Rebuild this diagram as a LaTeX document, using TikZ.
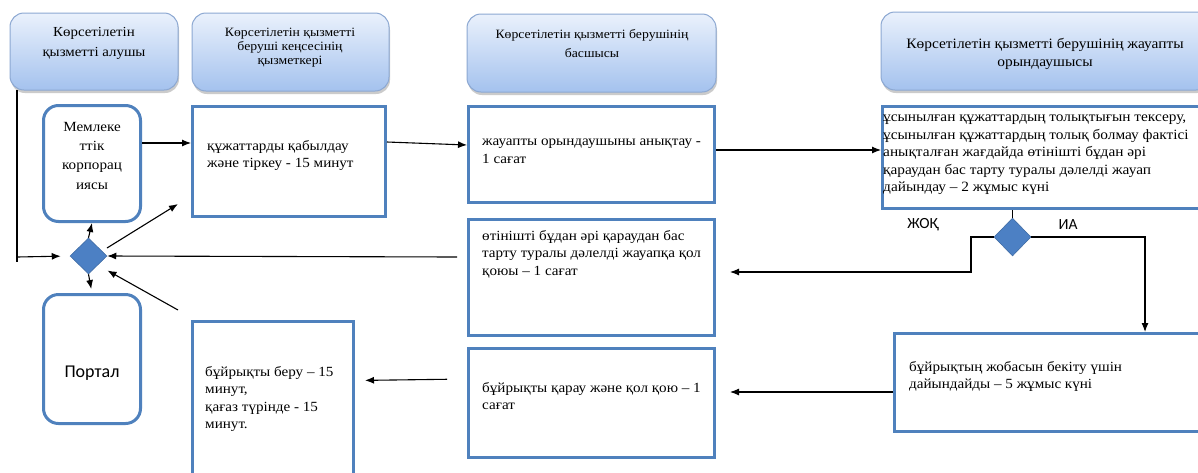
\documentclass[tikz,border=0pt]{standalone}
\usepackage{fontspec}
\setmainfont{Liberation Serif}[FakeStretch=1.08]
\newfontfamily\sansf{Carlito}
\usetikzlibrary{shapes.geometric,arrows.meta,shadows}
\definecolor{bxblue}{RGB}{79,129,189}
\definecolor{dmfill}{RGB}{76,128,196}
\definecolor{dmline}{RGB}{60,104,160}
\definecolor{hdtop}{RGB}{234,241,252}
\definecolor{hdbot}{RGB}{164,194,238}
\definecolor{hdline}{RGB}{140,168,210}
\tikzset{
  hdr/.style={draw=hdline, line width=1pt, rounded corners=14pt, top color=hdtop, bottom color=hdbot,
    drop shadow={shadow xshift=1pt, shadow yshift=-3pt, fill=black!45, opacity=0.45}, inner sep=0pt},
  htxt/.style={align=center, inner sep=0pt},
  box/.style={draw=bxblue, line width=3pt, fill=white, inner sep=0pt},
  rbox/.style={draw=bxblue, line width=3pt, fill=white, rounded corners=15pt, inner sep=0pt},
  dia/.style={diamond, fill=dmfill, draw=dmline, line width=0.5pt, inner sep=0pt},
  bt/.style={align=left, anchor=north west, inner sep=0pt, font=\fontsize{14}{17.5}\selectfont},
  btl/.style={bt, font=\fontsize{14.2}{17.5}\selectfont},
  lab/.style={inner sep=0pt, font=\sansf\fontsize{15.5}{17}\selectfont},
  arr/.style={line width=1.1pt, -{Latex[length=9pt,width=7pt]}},
  ln/.style={line width=1.1pt}
}
\begin{document}
\begin{tikzpicture}[x=1pt,y=-1pt]
\useasboundingbox (0,0) rectangle (1198,472);
\clip (0,0) rectangle (1198,472);
\fill[white] (0,0) rectangle (1198,472);

% headers
\node[hdr, minimum width=168pt, minimum height=77pt] (h1) at (94,51.5) {};
\node[hdr, minimum width=197pt, minimum height=78pt] (h2) at (290.5,52) {};
\node[hdr, minimum width=249pt, minimum height=78pt] (h3) at (591.5,53) {};
\node[hdr, minimum width=329pt, minimum height=78pt] (h4) at (1045.5,51) {};
\node[htxt, font=\fontsize{13.8}{20.5}\selectfont] (h1t) at (94,43.5) {Көрсетілетін\\қызметті алушы};
\node[htxt, font=\fontsize{12.7}{14}\selectfont] (h2t) at (290,48) {Көрсетілетін қызметті\\беруші кеңсесінің\\қызметкері};
\node[htxt, font=\fontsize{12.7}{19}\selectfont] (h3t) at (592,44) {Көрсетілетін қызметті берушінің\\басшысы};
\node[htxt, font=\fontsize{14.3}{18}\selectfont] (h4t) at (1045,54) {Көрсетілетін қызметті берушінің жауапты\\орындаушысы};

% boxes
\node[rbox, minimum width=97pt, minimum height=116pt] (mem) at (92,163.5) {};
\node[box, minimum width=193pt, minimum height=110pt] (b1) at (289,161.5) {};
\node[box, minimum width=246pt, minimum height=96pt] (b2) at (591.5,154.5) {};
\node[box, minimum width=319pt, minimum height=102pt] (b3) at (1042,157.5) {};
\node[box, minimum width=246pt, minimum height=116pt] (b4) at (591.5,277.5) {};
\node[box, minimum width=246pt, minimum height=109pt] (b5) at (591.5,403) {};
\node[box, minimum width=309pt, minimum height=98pt] (b6) at (1049,382.5) {};
\node[box, minimum width=161pt, minimum height=160pt] (b7) at (273,401.5) {};
\node[rbox, minimum width=97pt, minimum height=129pt] (portal) at (92,359) {};
\node[dia, minimum width=37pt, minimum height=36pt] (d1) at (88.5,256) {};
\node[dia, minimum width=37pt, minimum height=38pt] (d2) at (1012.5,237) {};

% texts
\node[align=center, inner sep=0pt, anchor=north, font=\fontsize{14}{19.3}\selectfont] (memt) at (92,122) {Мемлеке\\ттік\\корпорац\\иясы};
\node[inner sep=0pt, font=\sansf\fontsize{18}{20}\selectfont] (portalt) at (92,373.5) {Портал};
\node[bt] (b1t) at (207,140) {құжаттарды қабылдау\\және тіркеу - 15 минут};
\node[bt] (b2t) at (482,139) {жауапты орындаушыны анықтау -\\1 сағат};
\node[btl] (b3t) at (883,115) {ұсынылған құжаттардың толықтығын тексеру,\\ұсынылған құжаттардың толық болмау фактісі\\анықталған жағдайда өтінішті бұдан әрі\\қараудан бас тарту туралы дәлелді жауап\\дайындау – 2 жұмыс күні};
\node[bt] (b4t) at (482,230) {өтінішті бұдан әрі қараудан бас\\тарту туралы дәлелді жауапқа қол\\қоюы – 1 сағат};
\node[bt] (b5t) at (482,382) {бұйрықты қарау және қол қою – 1\\сағат};
\node[bt] (b6t) at (909,361) {бұйрықтың жобасын бекіту үшін\\дайындайды – 5 жұмыс күні};
\node[bt] (b7t) at (205,366) {бұйрықты беру – 15\\минут,\\қағаз түрінде - 15\\минут.};
\node[lab] (no) at (923,225) {ЖОҚ};
\node[lab] (yes) at (1068,225) {ИА};

% connectors
\coordinate (lt) at (17,90);
\coordinate (lb) at (17,262);
\coordinate (lm) at (17,257);
\draw[ln] (lt) -- (lb);
\draw[arr, shorten >=9pt] (lm) -- (d1.west);
\draw[arr] (d1.north) -- (mem.south);
\coordinate (s3) at (107,248);
\coordinate (e3) at (178,204);
\draw[arr] (s3) -- (e3);
\draw[arr, shorten >=4pt] (d1.south) -- (portal.north);
\coordinate (m1) at ([yshift=20.5pt]mem.east);
\draw[arr] (m1) -- (m1 -| b1.west);
\draw[arr] ([yshift=19.5pt]b1.east) -- ([yshift=9.5pt]b2.west);
\draw[arr] ([yshift=4.5pt]b2.east) -- ([yshift=7.5pt]b3.west);
\draw[ln] (d2.north |- b3.south) -- (d2.north);
\coordinate (k1) at (971,272);
\draw[arr, shorten >=14pt] (d2.west) -| (k1) -- (k1 -| b4.east);
\coordinate (k2) at (1145,332);
\draw[arr] (d2.east) -| (k2);
\draw[arr] ([xshift=-10pt,yshift=20.5pt]b4.west) -- (d1.east);
\coordinate (s12) at (178,310);
\draw[arr, shorten >=11pt] (s12) -- (d1.south east);
\draw[arr, shorten >=14pt] ([yshift=-9.5pt]b6.west) -- ([yshift=11pt]b5.east);
\draw[arr, shorten <=20pt, shorten >=10pt] ([yshift=24pt]b5.west) -- ([yshift=21pt]b7.east);
\end{tikzpicture}
\end{document}
